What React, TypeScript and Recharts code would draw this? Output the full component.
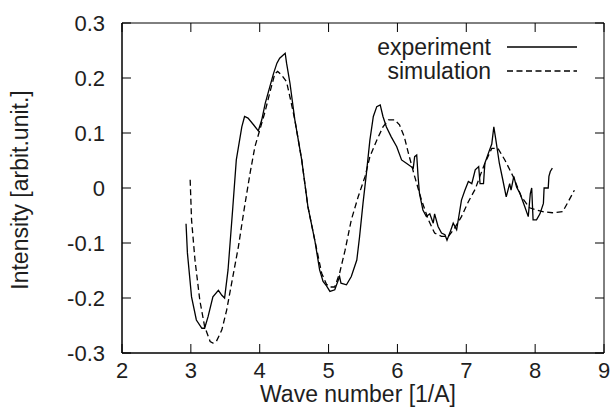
import React from 'react';
import { LineChart, Line, XAxis, YAxis, ReferenceArea, Label } from 'recharts';

// Experiment curve (wave number, intensity)
const expX = [
  2.93, 2.95, 3.01, 3.08, 3.16, 3.2, 3.25, 3.32, 3.4, 3.45, 3.49, 3.54, 3.61, 3.66, 3.74, 3.78, 3.83,
  3.91, 3.98, 4.03, 4.08, 4.12, 4.2, 4.25, 4.29, 4.37, 4.39, 4.44, 4.51, 4.61, 4.7, 4.8, 4.87, 4.92,
  4.97, 5.02, 5.09, 5.16, 5.18, 5.26, 5.33, 5.41, 5.45, 5.5, 5.55, 5.6, 5.65, 5.7, 5.75, 5.79, 5.84,
  5.91, 5.99, 6.06, 6.13, 6.23, 6.25, 6.28, 6.3, 6.32, 6.37, 6.42, 6.47, 6.52, 6.54, 6.59, 6.64, 6.69,
  6.72, 6.76, 6.81, 6.86, 6.93, 6.98, 7.03, 7.08, 7.13, 7.18, 7.2, 7.25, 7.27, 7.32, 7.37, 7.4, 7.43,
  7.48, 7.53, 7.58, 7.63, 7.65, 7.69, 7.73, 7.78, 7.85, 7.9, 7.93, 7.95, 7.97, 8.02, 8.07, 8.12, 8.13,
  8.19, 8.2, 8.22, 8.25,
];
const expY = [
  -0.065, -0.118, -0.198, -0.24, -0.255, -0.255, -0.234, -0.198, -0.186, -0.195, -0.2, -0.149, -0.034,
  0.051, 0.111, 0.13, 0.127, 0.115, 0.104, 0.124, 0.154, 0.172, 0.208, 0.227, 0.236, 0.245, 0.227, 0.19,
  0.124, 0.051, -0.034, -0.095, -0.149, -0.17, -0.178, -0.188, -0.185, -0.161, -0.173, -0.176, -0.161,
  -0.131, -0.089, -0.028, 0.027, 0.087, 0.13, 0.148, 0.151, 0.13, 0.111, 0.093, 0.075, 0.051, 0.045,
  0.036, 0.057, 0.06, 0.021, -0.01, -0.04, -0.052, -0.047, -0.064, -0.047, -0.07, -0.082, -0.085,
  -0.095, -0.082, -0.064, -0.076, -0.022, -0.004, 0.012, 0.008, 0.033, 0.039, 0.008, 0.008, 0.045, 0.063,
  0.08, 0.111, 0.087, 0.045, 0.015, -0.016, 0.008, -0.004, 0.021, 0.002, -0.01, -0.034, -0.052, -0.01,
  0.0, -0.058, -0.058, -0.047, -0.028, 0.0, 0.0, 0.021, 0.03, 0.036,
];

// Simulation curve
const simX = [
  2.99, 3.01, 3.06, 3.13, 3.2, 3.28, 3.32, 3.37, 3.45, 3.52, 3.61, 3.69, 3.78, 3.86, 3.93, 4.0, 4.08,
  4.15, 4.22, 4.26, 4.32, 4.39, 4.44, 4.51, 4.61, 4.7, 4.8, 4.9, 4.97, 5.02, 5.09, 5.16, 5.24, 5.33,
  5.43, 5.53, 5.6, 5.7, 5.79, 5.87, 5.96, 6.03, 6.1, 6.16, 6.25, 6.35, 6.45, 6.54, 6.64, 6.74, 6.83,
  6.93, 7.03, 7.13, 7.2, 7.27, 7.37, 7.46, 7.56, 7.68, 7.8, 7.92, 8.02, 8.11, 8.25, 8.4, 8.48, 8.57,
];
const simY = [
  0.015, -0.058, -0.131, -0.204, -0.252, -0.279, -0.282, -0.279, -0.258, -0.222, -0.161, -0.107, -0.034,
  0.027, 0.075, 0.105, 0.14, 0.175, 0.208, 0.212, 0.205, 0.193, 0.165, 0.124, 0.051, -0.034, -0.095,
  -0.155, -0.175, -0.18, -0.18, -0.155, -0.113, -0.058, -0.016, 0.021, 0.057, 0.087, 0.111, 0.124,
  0.124, 0.115, 0.093, 0.063, 0.021, -0.022, -0.058, -0.082, -0.088, -0.088, -0.073, -0.052, -0.025,
  -0.002, 0.022, 0.045, 0.072, 0.072, 0.051, 0.021, -0.016, -0.036, -0.04, -0.043, -0.045, -0.043,
  -0.025, -0.004,
];

const xTicks = [2, 3, 4, 5, 6, 7, 8, 9];
const yTicks = [-0.3, -0.2, -0.1, 0, 0.1, 0.2, 0.3];
const seriesNames = ['experiment', 'simulation'];

const expData = expX.map((x, i) => ({ x, y: expY[i] }));
const simData = simX.map((x, i) => ({ x, y: simY[i] }));

const W = 612;
const H = 414;
const PLOT_TOP = 23;
const PLOT_RIGHT = 604;
const TICK = 9;
const FONT = '"Liberation Sans", Arial, sans-serif';
const FS = 22; // tick labels
const FS_LABEL = 23; // axis titles + legend
const INK = '#1e1e1e';

const fmtY = (v: number) => (v === 0 ? '0' : v.toFixed(1));

function XTick({ x, y, payload }: any) {
  return (
    <g>
      <line x1={x} y1={y} x2={x} y2={y - TICK} stroke="#000" />
      <line x1={x} y1={PLOT_TOP} x2={x} y2={PLOT_TOP + TICK} stroke="#000" />
      <text x={x} y={y + 25} textAnchor="middle" fill={INK} fontSize={FS} fontFamily={FONT}>
        {payload.value}
      </text>
    </g>
  );
}

function YTick({ x, y, payload }: any) {
  return (
    <g>
      <line x1={x} y1={y} x2={x + TICK} y2={y} stroke="#000" />
      <line x1={PLOT_RIGHT} y1={y} x2={PLOT_RIGHT - TICK} y2={y} stroke="#000" />
      <text x={x - 17} y={y + 8} textAnchor="end" fill={INK} fontSize={FS} fontFamily={FONT}>
        {fmtY(payload.value)}
      </text>
    </g>
  );
}

function LegendBox() {
  return (
    <div style={{ position: 'absolute', left: 0, top: 0, width: W, height: 80, pointerEvents: 'none' }}>
      {seriesNames.map((name, i) => (
        <div
          key={name}
          style={{
            position: 'absolute',
            top: 47 + i * 24 - 13,
            left: 0,
            width: 491,
            textAlign: 'right',
            fontFamily: FONT,
            fontSize: FS_LABEL,
            lineHeight: '26px',
            color: INK,
          }}
        >
          {name}
          <svg width={72} height={26} style={{ position: 'absolute', left: 506, top: 0 }}>
            <line
              x1={1}
              y1={13}
              x2={71}
              y2={13}
              stroke="#000"
              strokeWidth={1.3}
              strokeDasharray={i === 1 ? '6 3.5' : undefined}
            />
          </svg>
        </div>
      ))}
    </div>
  );
}

export default function App() {
  return (
    <div style={{ position: 'absolute', left: 0, top: 0, width: W, height: H, background: '#fff' }}>
      <LineChart width={W} height={H} margin={{ top: PLOT_TOP, right: W - PLOT_RIGHT, bottom: 0, left: 0 }}>
        <XAxis
          dataKey="x"
          type="number"
          domain={[2, 9]}
          ticks={xTicks}
          allowDataOverflow
          height={61}
          tickSize={0}
          tickMargin={0}
          tickLine={false}
          axisLine={{ stroke: '#000' }}
          tick={<XTick />}
          interval={0}
        >
          <Label
            content={() => (
              <text x={358} y={402} textAnchor="middle" fill={INK} fontSize={FS_LABEL} fontFamily={FONT}>
                Wave number [1/A]
              </text>
            )}
          />
        </XAxis>
        <YAxis
          type="number"
          domain={[-0.3, 0.3]}
          ticks={yTicks}
          allowDataOverflow
          width={122}
          tickSize={0}
          tickMargin={0}
          tickLine={false}
          axisLine={{ stroke: '#000' }}
          tick={<YTick />}
          interval={0}
        >
          <Label
            content={() => (
              <text
                x={0}
                y={0}
                transform="translate(28 190) rotate(-90)"
                textAnchor="middle"
                fill={INK}
                fontSize={FS_LABEL}
                fontFamily={FONT}
              >
                Intensity [arbit.unit.]
              </text>
            )}
          />
        </YAxis>
        <ReferenceArea x1={2} x2={9} y1={-0.3} y2={0.3} fill="none" stroke="#000" strokeWidth={1} ifOverflow="visible" />
        <Line
          data={expData}
          dataKey="y"
          name={seriesNames[0]}
          type="linear"
          stroke="#000"
          strokeWidth={1.3}
          dot={false}
          isAnimationActive={false}
        />
        <Line
          data={simData}
          dataKey="y"
          name={seriesNames[1]}
          type="linear"
          stroke="#000"
          strokeWidth={1.3}
          strokeDasharray="6 3.5"
          dot={false}
          isAnimationActive={false}
        />
      </LineChart>
      <LegendBox />
    </div>
  );
}
